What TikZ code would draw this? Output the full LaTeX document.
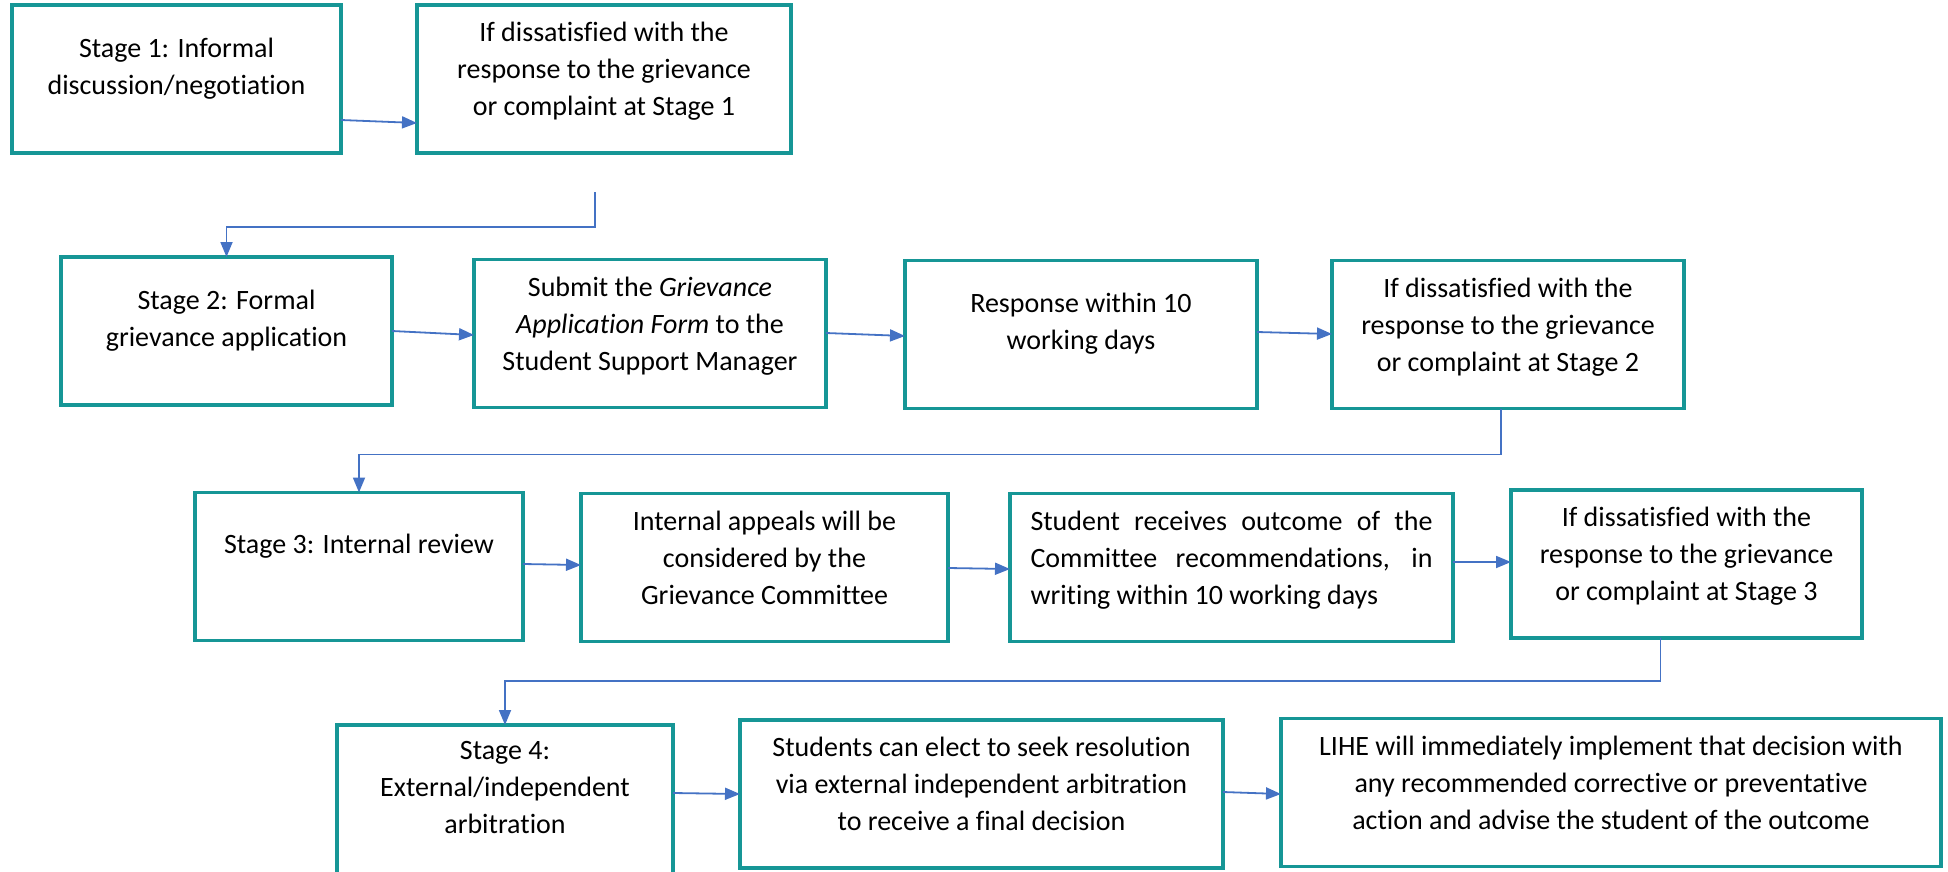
\documentclass[tikz,border=0pt]{standalone}
\usepackage{fontspec}
\setmainfont{Carlito}[Ligatures=NoCommon]
\usetikzlibrary{calc,positioning,arrows.meta}
\definecolor{boxteal}{RGB}{22,150,150}
\definecolor{flowblue}{RGB}{68,114,196}

\begin{document}
\begin{tikzpicture}[
  x=0.5pt, y=-0.5pt,
  stage box/.style={
    rectangle,
    fill=white,
    line width=1.6pt,
    draw=boxteal,
    minimum height=74pt,
    align=center,
    font=\fontsize{14}{18.5}\selectfont,
    inner sep=2pt,
    outer sep=0pt
  },
  one line/.style={text depth=23pt},
  two lines/.style={text depth=13pt},
  three lines/.style={text depth=10pt},
  flow/.style={
    draw=flowblue,
    line width=0.9pt,
    -{Triangle[length=7.5pt,width=6pt]}
  }
  ]
\useasboundingbox (0,0) rectangle (1948,872);
% Stage 1
\node [stage box, two lines, minimum width=164.5pt] (stage one) at (176.5,79)
  {Stage 1: Informal\\ discussion/negotiation};
\node [stage box, three lines, minimum width=187pt] (stage one check) at (604,79)
  {If dissatisfied with the\\ response to the grievance\\ or complaint at Stage 1};
\draw [flow] (stage one.east |- 0,120) -- (stage one check.west |- 0,123);
\coordinate (stage one exit) at ($(stage one check.south)+(-9,39)$);
% Stage 2
\node [stage box, two lines, minimum width=165.5pt] (stage two) at (226.5,331)
  {Stage 2: Formal\\ grievance application};
\node [stage box, three lines, minimum width=176pt] (submit form) at (650,333.5)
  {Submit the \textit{Grievance}\\ \textit{Application Form} to the\\ Student Support Manager};
\node [stage box, two lines, minimum width=176pt] (response) at (1081,334.5)
  {Response within 10\\ working days};
\node [stage box, three lines, minimum width=176pt] (stage two check) at (1508,334.5)
  {If dissatisfied with the\\ response to the grievance\\ or complaint at Stage 2};
\draw [flow] (stage one exit) -- ++(0,35) -| (stage two.north);
\draw [flow] (stage two.east |- 0,331) -- (submit form.west |- 0,335);
\draw [flow] (submit form.east |- 0,333) -- (response.west |- 0,336);
\draw [flow] (response.east |- 0,332) -- (stage two check.west |- 0,334);
% Stage 3
\node [stage box, one line, minimum width=164pt] (stage three) at (359,566.5)
  {Stage 3: Internal review};
\node [stage box, three lines, minimum width=183.5pt] (internal appeals) at (764.5,567.5)
  {Internal appeals will be\\ considered by the\\ Grievance Committee};
\node [stage box, three lines, minimum width=221.5pt, align=left] (outcome) at (1231.5,567.5)
  {\makebox[201pt][s]{Student receives outcome of the}\\
   \makebox[201pt][s]{Committee recommendations, in}\\
   writing within 10 working days};
\node [stage box, three lines, minimum width=175.5pt] (stage three check) at (1686.5,564)
  {If dissatisfied with the\\ response to the grievance\\ or complaint at Stage 3};
\draw [flow] ($(stage two check.south)+(-7,0)$) -- ++(0,46) -| (stage three.north);
\draw [flow] (stage three.east |- 0,564) -- (internal appeals.west |- 0,565);
\draw [flow] (internal appeals.east |- 0,568) -- (outcome.west |- 0,569);
\draw [flow] (outcome.east |- 0,562) -- (stage three check.west |- 0,562);
% Stage 4
\node [stage box, three lines, text depth=14pt, minimum width=168pt, minimum height=76pt] (stage four) at (505,801)
  {Stage 4:\\ External/independent\\ arbitration};
\node [stage box, three lines, minimum width=241.5pt] (arbitration) at (981.5,794)
  {Students can elect to seek resolution\\ via external independent arbitration\\ to receive a final decision};
\node [stage box, three lines, minimum width=330pt] (implement) at (1611,792.5)
  {LIHE will immediately implement that decision with\\ any recommended corrective or preventative\\ action and advise the student of the outcome};
\draw [flow] ($(stage three check.south)+(-26,0)$) -- ++(0,43) -| (stage four.north);
\draw [flow] (stage four.east |- 0,793) -- (arbitration.west |- 0,794);
\draw [flow] (arbitration.east |- 0,792) -- (implement.west |- 0,794);
\end{tikzpicture}
\end{document}
